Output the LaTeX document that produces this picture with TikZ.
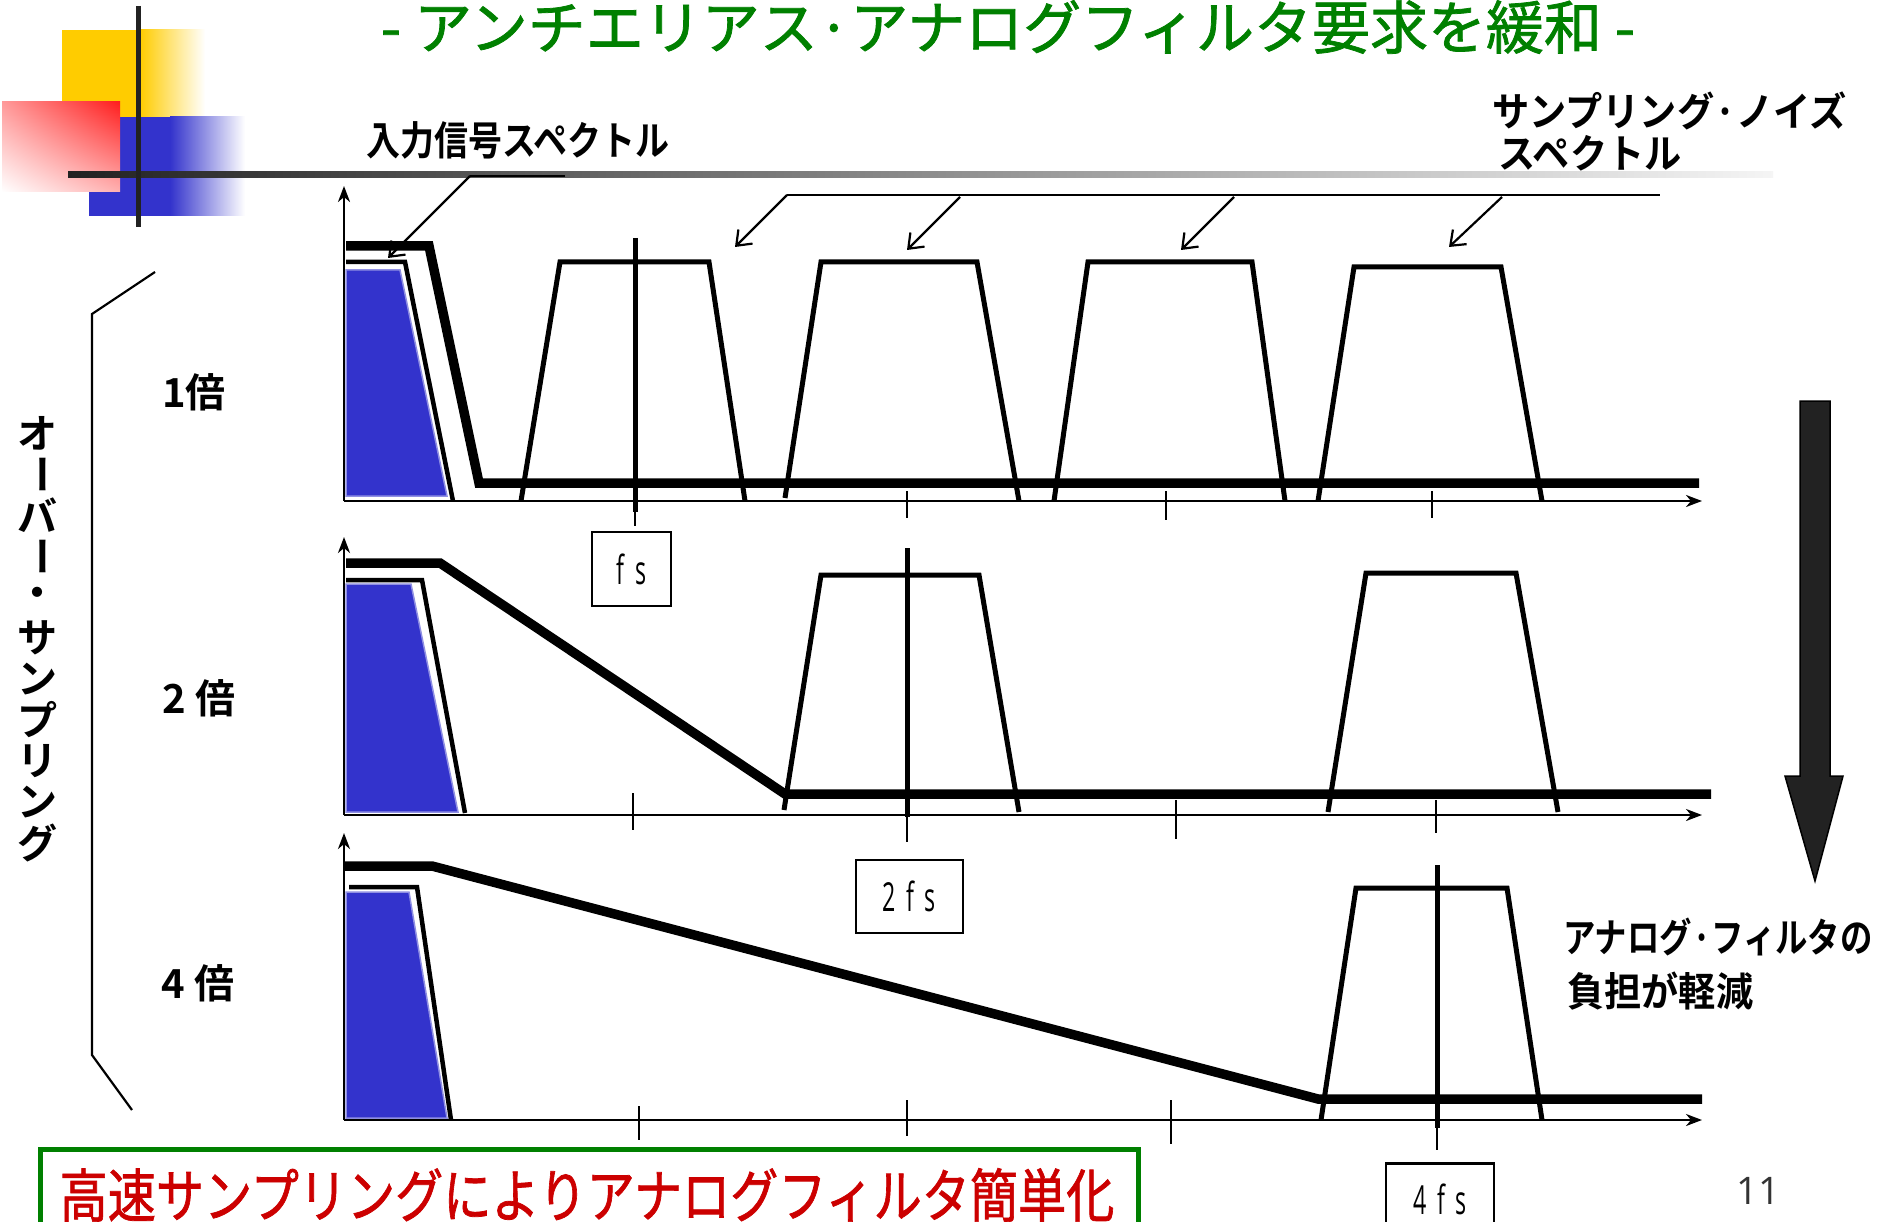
\documentclass[tikz,border=0pt]{standalone}
\usepackage{fontspec}
\usetikzlibrary{arrows.meta,shadings}
\newfontfamily\jp{Noto Sans CJK JP}[FakeBold=1.3]
\newfontfamily\jpb{Noto Sans CJK JP Bold}
\newfontfamily\thinfont{Open Sans}
\definecolor{sigblue}{RGB}{51,51,204}
\definecolor{tgreen}{RGB}{0,128,0}
\definecolor{tred}{RGB}{204,0,0}
\definecolor{logoyellow}{RGB}{255,204,0}
\definecolor{logored}{RGB}{255,30,30}
\definecolor{darkbar}{RGB}{34,34,34}
\tikzset{
 axisline/.style={line width=2.5pt, -{Stealth[length=16pt,width=12pt,inset=5pt]}},
 filt/.style={line width=9.5pt, line join=miter},
 sigline/.style={line width=4.5pt, line join=miter},
 trap/.style={line width=5pt, line join=miter},
 cline/.style={line width=5pt},
 tickline/.style={line width=2.5pt},
 sigfill/.style={fill=sigblue, draw=sigblue!55!white, line width=1.5pt},
 fsbox/.style={draw, line width=2.5pt, inner sep=0pt},
 fstext/.style={font=\thinfont\fontsize{40}{40}\selectfont},
 leader/.style={line width=2.2pt, -{Straight Barb[length=13pt,width=20pt]}},
 lbl/.style={font=\jpb\fontsize{40}{44}\selectfont, inner sep=0pt},
}
\begin{document}
\begin{tikzpicture}[x=1pt,y=-1pt]
\useasboundingbox (0,0) rectangle (1879,1222);
\clip (0,0) rectangle (1879,1222);
\fill[white] (0,0) rectangle (1879,1222);
% logo
\fill[logoyellow] (62,30) rectangle (140,120);
\shade[left color=logoyellow, right color=white] (140,30) rectangle (205,120);
\fill[sigblue] (89,117) rectangle (170,216);
\shade[left color=sigblue, right color=white] (170,117) rectangle (245,216);
\shade[upper left=logored!45!white, upper right=logored, lower left=white, lower right=logored!35!white] (2,102) rectangle (120,192);
\shade[left color=darkbar, middle color=black!50, right color=black!4] (68,172) rectangle (1773,178);
\draw[darkbar, line width=5pt] (138,6) -- (138,227);
% title
\node[font=\jp\fontsize{58}{60}\selectfont, text=tgreen, inner sep=0pt] (title) at (1008,27) {- アンチエリアス·アナログフィルタ要求を緩和 -};
% labels
\node[lbl] (insig) at (518,140) {\scalebox{0.85}[1]{入力信号スペクトル}};
\node[lbl, anchor=west] (noise1) at (1492,111) {\scalebox{0.93}[1]{サンプリング·ノイズ}};
\node[lbl, anchor=west] (noise2) at (1498,153) {\scalebox{0.93}[1]{スペクトル}};
\node[lbl, anchor=west] (burden1) at (1563,937) {\scalebox{0.81}[1]{アナログ·フィルタの}};
\node[lbl, anchor=west] (burden2) at (1567,991) {\scalebox{0.93}[1]{負担が軽減}};
\node[lbl] (m1) at (194,392) {1倍};
\node[lbl] (m2) at (199,698) {2 倍};
\node[lbl] (m4) at (198,983) {4 倍};
% vertical text
\node[lbl] (v1) at (37,433) {オ};
\node[lbl, rotate=-90] (v2) at (37,474) {ー};
\node[lbl] (v3) at (37,515) {バ};
\node[lbl, rotate=-90] (v4) at (37,556) {ー};
\node[lbl] (v5) at (37,597) {・};
\node[lbl] (v6) at (37,638) {サ};
\node[lbl] (v7) at (37,679) {ン};
\node[lbl] (v8) at (37,720) {プ};
\node[lbl] (v9) at (37,761) {リ};
\node[lbl] (v10) at (37,802) {ン};
\node[lbl] (v11) at (37,843) {グ};
% bracket
\coordinate (br1) at (155,272);
\coordinate (br2) at (92,314);
\coordinate (br3) at (92,1055);
\coordinate (br4) at (132,1110);
\draw[line width=2.2pt] (br1) -- (br2) -- (br3) -- (br4);
% leaders
\coordinate (inA) at (565,176);
\coordinate (inB) at (470,176);
\coordinate (inTip) at (388,258);
\draw[line width=2.5pt] (inA) -- (inB);
\draw[leader] (inB) -- (inTip);
\coordinate (nzA) at (787,195);
\coordinate (nzB) at (1660,195);
\draw[line width=2.2pt] (nzA) -- (nzB);
\coordinate (nz2) at (960,197);
\coordinate (nz3) at (1234,197);
\coordinate (nz4) at (1502,197);
\draw[leader] (nzA) -- (735,247);
\draw[leader] (nz2) -- (907,250);
\draw[leader] (nz3) -- (1181,250);
\draw[leader] (nz4) -- (1449,247);
% ===== panel 1 =====
\coordinate (o1) at (344,501);
\coordinate (y1) at (344,186);
\coordinate (x1) at (1702,501);
\path[sigfill] (346,270) -- (400,270) -- (447,496) -- (346,496) -- cycle;
\draw[sigline] (346,262) -- (405,262) -- (453,501);
\draw[trap] (521,501) -- (560,262) -- (709,262) -- (745,501);
\draw[trap] (785,498) -- (821,262) -- (977,262) -- (1019,501);
\draw[trap] (1054,501) -- (1088,262) -- (1252,262) -- (1285,501);
\draw[trap] (1318,501) -- (1354,267) -- (1501,267) -- (1542,501);
\draw[filt] (346,246) -- (429,246) -- (479,483) -- (1699,483);
\draw[cline] (635,238) -- (635,512);
\draw[tickline] (635,490) -- (635,526);
\draw[tickline] (907,491) -- (907,518);
\draw[tickline] (1166,491) -- (1166,520);
\draw[tickline] (1432,491) -- (1432,518);
\draw[axisline] (o1) -- (y1);
\draw[axisline] (o1) -- (x1);
\node[fsbox, minimum width=79pt, minimum height=74pt] (fs1) at (631.5,569) {};
% ===== panel 2 =====
\coordinate (o2) at (344,815);
\coordinate (y2) at (344,537);
\coordinate (x2) at (1702,815);
\path[sigfill] (346,584) -- (411,584) -- (458,812) -- (346,812) -- cycle;
\draw[sigline] (346,580) -- (422,580) -- (465,813);
\draw[trap] (784,810) -- (821,575) -- (979,575) -- (1019,812);
\draw[trap] (1328,812) -- (1366,573) -- (1516,573) -- (1558,812);
\draw[filt] (346,563) -- (440,563) -- (785,794) -- (1711,794);
\draw[cline] (907,548) -- (907,817);
\draw[tickline] (907,800) -- (907,842);
\draw[tickline] (633,793) -- (633,830);
\draw[tickline] (1176,800) -- (1176,839);
\draw[tickline] (1436,800) -- (1436,833);
\draw[axisline] (o2) -- (y2);
\draw[axisline] (o2) -- (x2);
\node[fsbox, minimum width=107pt, minimum height=73pt] (fs2) at (909.5,896.5) {};
% ===== panel 3 =====
\coordinate (o3) at (344,1120);
\coordinate (y3) at (344,833);
\coordinate (x3) at (1702,1120);
\path[sigfill] (346,892) -- (409,892) -- (447,1118) -- (346,1118) -- cycle;
\draw[sigline] (349,887) -- (417,887) -- (451,1120);
\draw[trap] (1321,1120) -- (1356,888) -- (1507,888) -- (1542,1120);
\draw[filt] (344,866) -- (432,866) -- (1318,1099) -- (1702,1099);
\draw[cline] (1437,865) -- (1437,1128);
\draw[tickline] (1437,1110) -- (1437,1150);
\draw[tickline] (639,1106) -- (639,1140);
\draw[tickline] (907,1100) -- (907,1136);
\draw[tickline] (1171,1100) -- (1171,1144);
\draw[axisline] (o3) -- (y3);
\draw[axisline] (o3) -- (x3);
\node[fsbox, minimum width=108pt, minimum height=98pt, anchor=north] (fs4) at (1440,1162) {};
% box texts
\node[fstext, inner sep=0pt] (fs1t) at (fs1.center) {\scalebox{0.58}[1]{f\hspace{18pt}s}};
\node[fstext, inner sep=0pt] (fs2t) at (fs2.center) {\scalebox{0.58}[1]{2\hspace{18pt}f\hspace{18pt}s}};
\node[fstext, inner sep=0pt] (fs4t) at (1440,1199) {\scalebox{0.58}[1]{4\hspace{18pt}f\hspace{18pt}s}};
% big arrow
\fill[darkbar, draw=black, line width=1.5pt] (1800,401) -- (1830,401) -- (1830,776) -- (1843,776) -- (1815,881) -- (1785,776) -- (1800,776) -- cycle;
% conclusion box
\node[draw=tgreen, line width=5pt, minimum width=1098pt, minimum height=150pt, anchor=north west, inner sep=0pt] (concl) at (38,1147) {};
\node[font=\jp\fontsize{58}{60}\selectfont, text=tred, inner sep=0pt] (conclt) at (587,1195) {\scalebox{0.83}[1]{高速サンプリングによりアナログフィルタ簡単化}};
% page number
\node[font=\thinfont\fontsize{38}{38}\selectfont, text=black!80, inner sep=0pt] (pg) at (1758,1191) {11};
\end{tikzpicture}
\end{document}
